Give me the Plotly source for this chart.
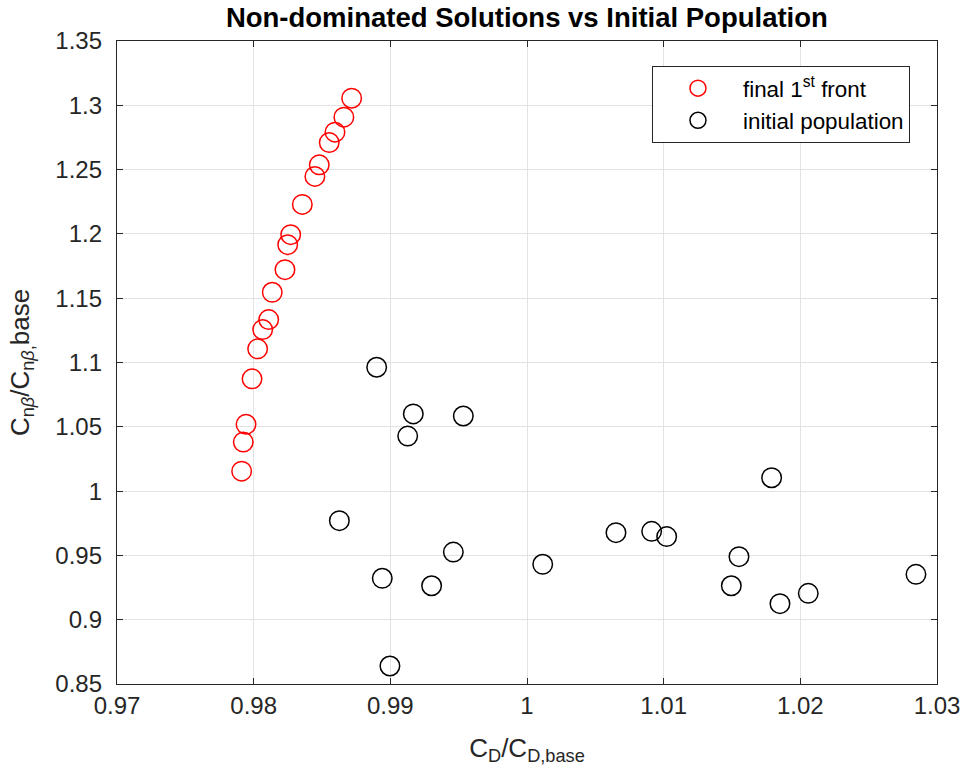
import plotly.graph_objects as go

# Final first (non-dominated) front
front_cd = [0.98717, 0.98660, 0.98595, 0.98553, 0.98480, 0.98448, 0.98356, 0.98271,
            0.98249, 0.98229, 0.98136, 0.98110, 0.98066, 0.98029, 0.97988, 0.97944,
            0.97924, 0.97912]
front_cn = [1.3055, 1.2908, 1.2791, 1.2710, 1.2537, 1.2447, 1.2229, 1.1994,
            1.1916, 1.1722, 1.1546, 1.1334, 1.1256, 1.1106, 1.0873, 1.0519,
            1.0381, 1.0155]

# Initial population
init_cd = [0.98900, 0.99168, 0.99534, 0.99127, 0.98627, 0.99461, 0.98941, 0.99302,
           1.00115, 0.98997, 1.01790, 1.00651, 1.00912, 1.01022, 1.01551, 1.01495,
           1.01851, 1.02058, 1.02846]
init_cn = [1.0963, 1.0600, 1.0584, 1.0428, 0.9770, 0.9526, 0.9322, 0.9264,
           0.9431, 0.8640, 1.0104, 0.9677, 0.9687, 0.9646, 0.9490, 0.9264,
           0.9125, 0.9205, 0.9353]

x_ticks = [0.97, 0.98, 0.99, 1.00, 1.01, 1.02, 1.03]
x_tick_text = ["0.97", "0.98", "0.99", "1", "1.01", "1.02", "1.03"]
y_ticks = [0.85, 0.9, 0.95, 1.0, 1.05, 1.1, 1.15, 1.2, 1.25, 1.3, 1.35]
y_tick_text = ["0.85", "0.9", "0.95", "1", "1.05", "1.1", "1.15", "1.2", "1.25", "1.3", "1.35"]

FONT = "Liberation Sans, Arial, Helvetica, sans-serif"
AX = "#262626"

fig = go.Figure()
fig.add_trace(go.Scatter(
    x=front_cd, y=front_cn, mode="markers", name="final 1<sup>st</sup> front",
    marker=dict(symbol="circle-open", size=19.5, color="#ff0000", line=dict(width=1.5)),
))
fig.add_trace(go.Scatter(
    x=init_cd, y=init_cn, mode="markers", name="initial population",
    marker=dict(symbol="circle-open", size=19.5, color="#000000", line=dict(width=1.5)),
))

axis_common = dict(
    showgrid=True, gridcolor="#e3e3e3", gridwidth=1,
    showline=True, linecolor=AX, linewidth=1.3, mirror="ticks",
    ticks="inside", ticklen=6, tickcolor=AX, tickwidth=1,
    zeroline=False, automargin=False,
    tickfont=dict(family=FONT, size=24, color=AX),
)

fig.update_xaxes(
    range=[0.97, 1.03], tickvals=x_ticks, ticktext=x_tick_text,
    title=dict(text="C<sub>D</sub>/C<sub>D,base</sub>", font=dict(family=FONT, size=26, color=AX),
               standoff=20),
    **axis_common,
)
fig.update_yaxes(
    range=[0.85, 1.35], tickvals=y_ticks, ticktext=y_tick_text,
    ticklabelstandoff=9,
    title=dict(text="C<sub>n<i>β</i></sub>/C<sub>n<i>β</i>,</sub>base",
               font=dict(family=FONT, size=26, color=AX), standoff=18),
    **axis_common,
)

fig.update_layout(
    width=963, height=776,
    margin=dict(l=117, r=26, t=41, b=92),
    plot_bgcolor="white", paper_bgcolor="white",
    title=dict(text="<b>Non-dominated Solutions vs Initial Population</b>",
               font=dict(family=FONT, size=27.5, color="#000000"),
               x=0.5471, xanchor="center", y=0.978, yanchor="middle"),
    legend=dict(
        x=0.6524, y=0.961, xanchor="left", yanchor="top",
        bgcolor="white", bordercolor=AX, borderwidth=1,
        font=dict(family=FONT, size=22.4, color="#000000"),
        itemwidth=80, tracegroupgap=2,
    ),
    showlegend=True,
)

fig.write_html("out.html")
